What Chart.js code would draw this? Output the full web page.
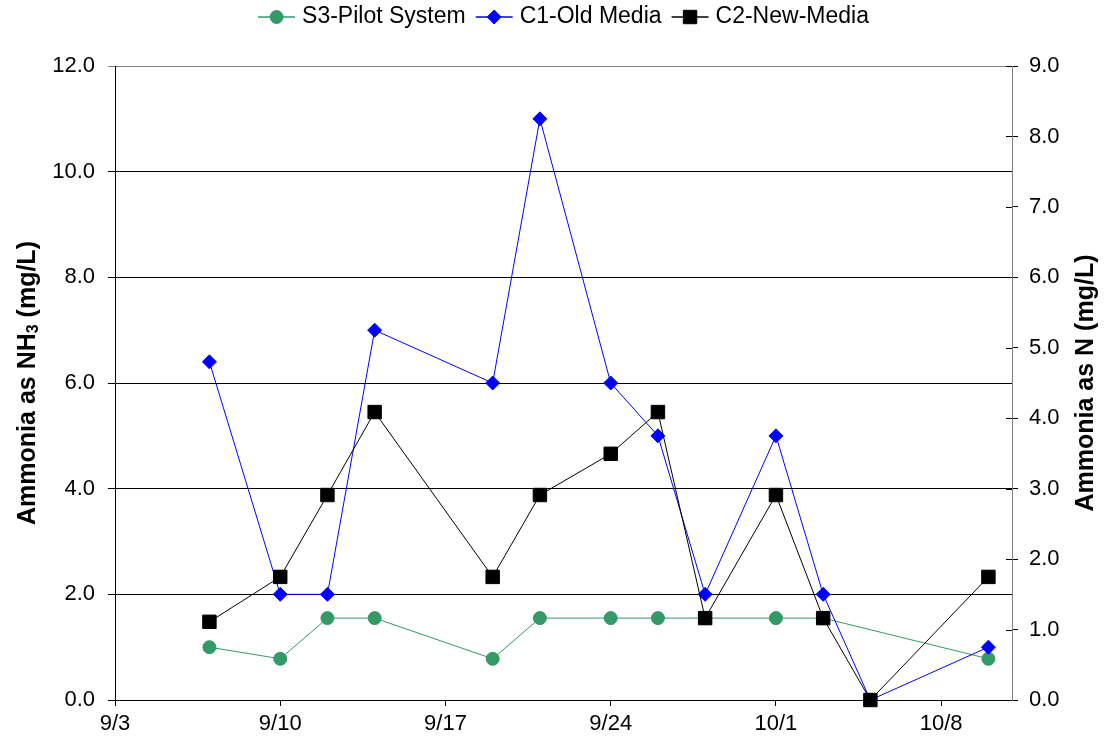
<!DOCTYPE html>
<html>
<head>
<meta charset="utf-8">
<script src="https://cdn.jsdelivr.net/npm/chart.js@4/dist/chart.umd.min.js"></script>
<style>
  html, body { margin: 0; padding: 0; background: #fff; }
  #wrap { width: 1105px; height: 747px; position: relative; }
</style>
</head>
<body>
<div id="wrap"><canvas id="c"></canvas></div>
<script>
// ---- data ----
const startDate = '9/3';
const endDate = '10/11';
const dates = ['9/7','9/10','9/12','9/14','9/19','9/21','9/24','9/26','9/28','10/1','10/3','10/5','10/10'];
const s3Pilot = [1.0, 0.78, 1.55, 1.55, 0.78, 1.55, 1.55, 1.55, 1.55, 1.55, 1.55, null, 0.78];
const c1OldMedia = [6.4, 2.0, 2.0, 7.0, 6.0, 11.0, 6.0, 5.0, 2.0, 5.0, 2.0, 0.0, 1.0];
const c2NewMedia = [1.48, 2.33, 3.88, 5.45, 2.33, 3.88, 4.66, 5.45, 1.55, 3.88, 1.55, 0.0, 2.33];
const xTickLabels = ['9/3','9/10','9/17','9/24','10/1','10/8'];
const seriesNames = ['S3-Pilot System', 'C1-Old Media', 'C2-New-Media'];
const leftTitle = ['Ammonia as NH', '3', ' (mg/L)'];
const rightTitle = 'Ammonia as N (mg/L)';

// ---- helpers ----
function dayOf(s) {
  const [m, d] = s.split('/').map(Number);
  const [m0, d0] = startDate.split('/').map(Number);
  return Math.round((Date.UTC(2000, m - 1, d) - Date.UTC(2000, m0 - 1, d0)) / 86400000);
}
function pts(vals) { return dates.map((d, i) => ({ x: dayOf(d), y: vals[i] })); }

const FONT = '"Liberation Sans", Arial, sans-serif';
const GREEN = '#339966', BLUE = '#0000FF', BLACK = '#000000';

// ---- custom plugins ----
const titlesPlugin = {
  id: 'vtitles',
  afterDraw(chart) {
    const ctx = chart.ctx;
    const area = chart.chartArea;
    const cy = (area.top + area.bottom) / 2;
    function drawParts(x, parts) {
      ctx.save();
      ctx.translate(x, cy);
      ctx.rotate(-Math.PI / 2);
      ctx.textBaseline = 'middle';
      ctx.fillStyle = '#000';
      let total = 0;
      parts.forEach(p => { ctx.font = 'bold ' + p.size + 'px ' + FONT; p.w = ctx.measureText(p.t).width; total += p.w; });
      let cx = -total / 2;
      parts.forEach(p => {
        ctx.font = 'bold ' + p.size + 'px ' + FONT;
        ctx.textAlign = 'left';
        ctx.fillText(p.t, cx, p.dy || 0);
        cx += p.w;
      });
      ctx.restore();
    }
    drawParts(28, [
      { t: leftTitle[0], size: 25 },
      { t: leftTitle[1], size: 16, dy: 6 },
      { t: leftTitle[2], size: 25 }
    ]);
    drawParts(1086, [{ t: rightTitle, size: 25 }]);
  }
};

const legendPlugin = {
  id: 'lineLegend',
  afterDraw(chart) {
    const ctx = chart.ctx;
    const area = chart.chartArea;
    const lineLen = 37, gap = 7, spacing = 10, fs = 23, cy = 17;
    ctx.save();
    ctx.font = fs + 'px ' + FONT;
    const items = chart.data.datasets.map(ds => ({ ds, w: ctx.measureText(ds.label).width }));
    let total = 0;
    items.forEach((it, i) => { total += lineLen + gap + it.w + (i < items.length - 1 ? spacing : 0); });
    let x = (area.left + area.right) / 2 - total / 2;
    items.forEach(it => {
      const ds = it.ds;
      ctx.strokeStyle = ds.borderColor;
      ctx.lineWidth = 1.5;
      ctx.beginPath();
      ctx.moveTo(x, cy);
      ctx.lineTo(x + lineLen, cy);
      ctx.stroke();
      ctx.fillStyle = ds.pointBackgroundColor;
      ctx.strokeStyle = ds.pointBorderColor;
      ctx.lineWidth = 1;
      Chart.helpers.drawPoint(ctx, {
        pointStyle: ds.pointStyle, radius: ds.pointRadius, rotation: 0, borderWidth: 1
      }, x + lineLen / 2, cy);
      ctx.font = fs + 'px ' + FONT;
      ctx.fillStyle = '#000';
      ctx.textAlign = 'left';
      ctx.textBaseline = 'middle';
      ctx.fillText(ds.label, x + lineLen + gap, cy);
      x += lineLen + gap + it.w + spacing;
    });
    ctx.restore();
  }
};

const innerTicksPlugin = {
  id: 'innerTicks',
  afterDraw(chart) {
    const ctx = chart.ctx;
    const s = chart.scales.y2;
    const area = chart.chartArea;
    ctx.save();
    ctx.strokeStyle = '#000';
    ctx.lineWidth = 1;
    s.ticks.forEach(t => {
      const y = Math.round(s.getPixelForValue(t.value)) + 0.5;
      ctx.beginPath();
      ctx.moveTo(area.right - 6, y);
      ctx.lineTo(area.right, y);
      ctx.stroke();
    });
    ctx.restore();
  }
};

const ctx = document.getElementById('c').getContext('2d');
new Chart(ctx, {
  type: 'line',
  data: {
    datasets: [
      {
        label: seriesNames[0], data: pts(s3Pilot), order: 2,
        borderColor: GREEN, backgroundColor: GREEN, borderWidth: 1,
        pointStyle: 'circle', pointRadius: 6.5, pointBackgroundColor: GREEN, pointBorderColor: GREEN, pointBorderWidth: 1,
        spanGaps: true, yAxisID: 'y', clip: false, tension: 0
      },
      {
        label: seriesNames[1], data: pts(c1OldMedia), order: 1,
        borderColor: BLUE, backgroundColor: BLUE, borderWidth: 1,
        pointStyle: 'rectRot', pointRadius: 7, pointBackgroundColor: BLUE, pointBorderColor: BLUE, pointBorderWidth: 1,
        spanGaps: true, yAxisID: 'y', clip: false, tension: 0
      },
      {
        label: seriesNames[2], data: pts(c2NewMedia), order: 0,
        borderColor: BLACK, backgroundColor: BLACK, borderWidth: 1,
        pointStyle: 'rect', pointRadius: 9.5, pointBackgroundColor: BLACK, pointBorderColor: BLACK, pointBorderWidth: 1,
        spanGaps: true, yAxisID: 'y', clip: false, tension: 0
      }
    ]
  },
  options: {
    responsive: true,
    maintainAspectRatio: false,
    animation: false,
    layout: { padding: { top: 66, left: 0, right: 0, bottom: 0 } },
    plugins: {
      legend: { display: false },
      tooltip: { enabled: false }
    },
    scales: {
      x: {
        type: 'linear',
        min: 0,
        max: dayOf(endDate),
        afterBuildTicks(scale) { scale.ticks = xTickLabels.map(l => ({ value: dayOf(l) })); },
        afterFit(scale) { scale.height = 47; },
        ticks: {
          callback(v) { const i = xTickLabels.findIndex(l => dayOf(l) === v); return i >= 0 ? xTickLabels[i] : ''; },
          font: { family: FONT, size: 22 }, color: '#000', padding: 5, maxRotation: 0, autoSkip: false
        },
        grid: { drawOnChartArea: false, drawTicks: true, tickLength: 6, color: '#000', lineWidth: 1 },
        border: { display: true, color: '#000', width: 1 }
      },
      y: {
        type: 'linear', position: 'left', min: 0, max: 12,
        afterFit(scale) { scale.width = 115; },
        ticks: { stepSize: 2, callback: v => v.toFixed(1), font: { family: FONT, size: 22 }, color: '#000', padding: 13 },
        grid: {
          drawOnChartArea: true, drawTicks: true, tickLength: 7, lineWidth: 1,
          color: ctx => (ctx.tick && ctx.tick.value === 12 ? '#808080' : '#000')
        },
        border: { display: true, color: '#000', width: 1 }
      },
      y2: {
        type: 'linear', position: 'right', min: 0, max: 9,
        afterFit(scale) { scale.width = 93; },
        ticks: { stepSize: 1, callback: v => v.toFixed(1), font: { family: FONT, size: 22 }, color: '#000', padding: 11 },
        grid: { drawOnChartArea: false, drawTicks: true, tickLength: 6, color: '#000', lineWidth: 1 },
        border: { display: true, color: '#808080', width: 1 }
      }
    }
  },
  plugins: [titlesPlugin, legendPlugin, innerTicksPlugin]
});
</script>
</body>
</html>
